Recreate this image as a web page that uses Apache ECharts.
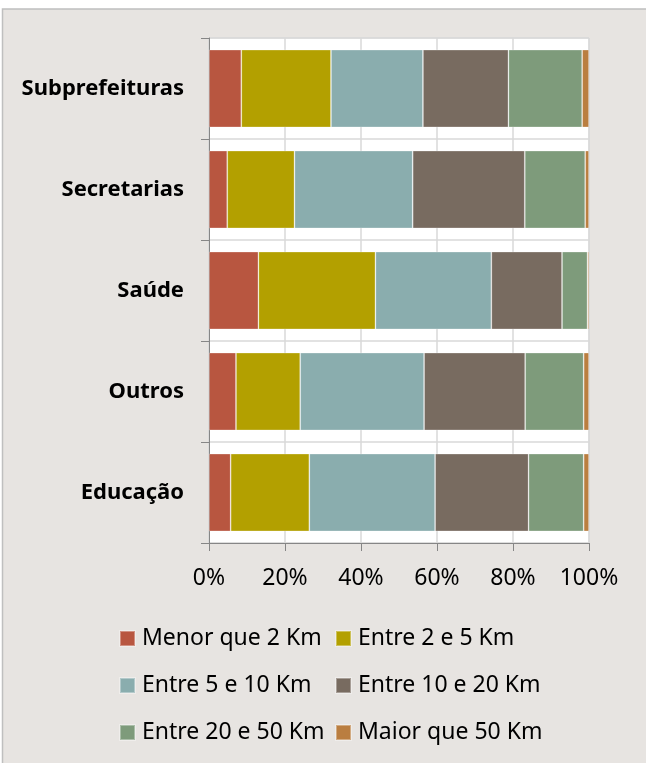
<!DOCTYPE html>
<html>
<head>
<meta charset="utf-8">
<script src="https://cdn.jsdelivr.net/npm/echarts@6/dist/echarts.min.js"></script>
<style>
html,body{margin:0;padding:0;background:#fff;}
#chart{width:646px;height:763px;}
</style>
</head>
<body>
<div id="chart"></div>
<script>
const categories = ['Subprefeituras', 'Secretarias', 'Saúde', 'Outros', 'Educação'];
const seriesNames = ['Menor que 2 Km', 'Entre 2 e 5 Km', 'Entre 5 e 10 Km', 'Entre 10 e 20 Km', 'Entre 20 e 50 Km', 'Maior que 50 Km'];
const menor2 = [8.5, 4.8, 13.0, 7.1, 5.7];
const entre2e5 = [23.6, 17.7, 30.8, 16.9, 20.7];
const entre5e10 = [24.2, 31.1, 30.5, 32.6, 33.1];
const entre10e20 = [22.5, 29.5, 18.6, 26.6, 24.6];
const entre20e50 = [19.4, 15.9, 6.7, 15.4, 14.5];
const maior50 = [1.8, 1.0, 0.4, 1.4, 1.4];
const seriesValues = [menor2, entre2e5, entre5e10, entre10e20, entre20e50, maior50];
const colors = ['#B85640', '#B3A000', '#8AADAE', '#786B60', '#7E9B7B', '#BA7E40'];

const chart = echarts.init(document.getElementById('chart'), null, {renderer: 'canvas'});
const font = '"Noto Sans", "Open Sans", sans-serif';

const legendText = {fontFamily: font, fontSize: 23, color: '#000', padding: [0, 0, 0, 2]};

const option = {
  backgroundColor: '#ffffff',
  animation: false,
  graphic: [{
    type: 'rect',
    z: -100,
    shape: {x: 2.5, y: 9, width: 700, height: 800},
    style: {fill: '#E7E4E1', stroke: '#BFBFBF', lineWidth: 1.5}
  }],
  grid: {
    left: 209, right: 57, top: 38, bottom: 220,
    show: true, backgroundColor: '#ffffff', borderColor: '#D9D9D9', borderWidth: 1
  },
  legend: [
    {
      orient: 'vertical', left: 119, top: 627, padding: 0, itemWidth: 15, itemHeight: 15, itemGap: 24,
      icon: 'rect', data: [seriesNames[0], seriesNames[2], seriesNames[4]],
      textStyle: legendText
    },
    {
      orient: 'vertical', left: 335, top: 627, padding: 0, itemWidth: 15, itemHeight: 15, itemGap: 24,
      icon: 'rect', data: [seriesNames[1], seriesNames[3], seriesNames[5]],
      textStyle: legendText
    }
  ],
  xAxis: {
    type: 'value', min: 0, max: 100, interval: 20,
    axisLine: {show: true, lineStyle: {color: '#868686', width: 1}},
    axisTick: {show: true, length: 8, lineStyle: {color: '#868686'}},
    axisLabel: {formatter: '{value}%', fontFamily: font, fontSize: 23, color: '#000', margin: 24},
    splitLine: {show: true, lineStyle: {color: '#D9D9D9', width: 1.5}}
  },
  yAxis: {
    type: 'category', data: categories, inverse: true,
    axisLine: {show: true, lineStyle: {color: '#868686', width: 1}},
    axisTick: {show: true, length: 8, lineStyle: {color: '#868686'}},
    axisLabel: {fontFamily: font, fontSize: 22, fontWeight: 'bold', color: '#000', margin: 25},
    splitLine: {show: true, lineStyle: {color: '#D9D9D9', width: 1.5}}
  },
  series: seriesNames.map((name, i) => ({
    name: name,
    type: 'bar',
    stack: 'total',
    barCategoryGap: '23%',
    data: seriesValues[i],
    itemStyle: {color: colors[i], borderColor: 'rgba(255,255,255,0.35)', borderWidth: 0.8},
    emphasis: {disabled: true}
  }))
};
chart.setOption(option);
</script>
</body>
</html>
